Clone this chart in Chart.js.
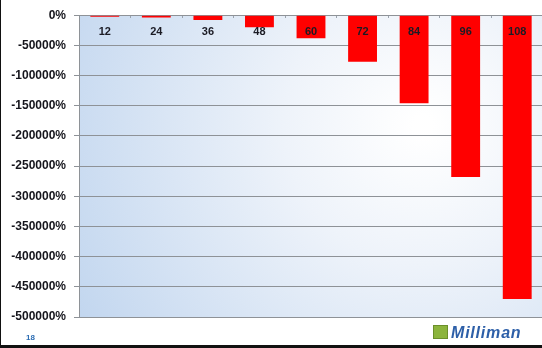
<!DOCTYPE html>
<html lang="en">
<head>
    <meta charset="UTF-8" />
    <title>Milliman chart</title>
    <script src="https://cdn.jsdelivr.net/npm/chart.js"></script>
    <style>
        html, body { margin: 0; padding: 0; background: #fff; }
        .wrap {
            position: relative;
            width: 542px;
            height: 348px;
            box-sizing: border-box;
            border-left: 1px solid #111;
            border-bottom: 3px solid #111;
            overflow: hidden;
        }
        #chart { position: absolute; left: 0; top: 0; }
        .pagenum {
            position: absolute; left: 25px; top: 333px;
            font: bold 8px "Liberation Sans", sans-serif; color: #2b6cb3;
        }
        .logo {
            position: absolute; left: 432px; top: 324px;
            font: italic bold 16px "Liberation Sans", sans-serif; color: #2d5fa8;
            letter-spacing: 0.8px;
        }
        .logo .box {
            display: inline-block; width: 13px; height: 12px; margin-right: 3px;
            background: #8cb43c; border: 1px solid #6b8f2a; vertical-align: -1px;
        }
    </style>
</head>
<body>
    <div class="wrap">
        <canvas id="chart" width="542" height="345"></canvas>
        <div class="pagenum">18</div>
        <div class="logo"><span class="box"></span>Milliman</div>
    </div>

    <script>
        // Datos
        const meses = ['12', '24', '36', '48', '60', '72', '84', '96', '108'];
        const valores = [-2500, -4000, -8000, -20000, -38000, -77000, -146000, -268000, -470000];
        const yMin = -500000;
        const yMax = 0;
        const yPaso = 50000;

        // Fondo degradado del area de trazado
        const fondo = {
            id: 'fondo',
            beforeDraw(chart) {
                const { ctx, chartArea: a } = chart;
                const g = ctx.createRadialGradient(a.right - 120, a.top + 110, 10, a.right - 120, a.top + 110, 440);
                g.addColorStop(0, '#ffffff');
                g.addColorStop(0.3, '#eef3fa');
                g.addColorStop(1, '#bad1ed');
                ctx.save();
                ctx.fillStyle = g;
                ctx.fillRect(a.left, a.top, a.right - a.left, a.bottom - a.top);
                ctx.restore();
            }
        };

        const ctx = document.getElementById('chart').getContext('2d');
        new Chart(ctx, {
            type: 'bar',
            data: {
                labels: meses,
                datasets: [{
                    data: valores,
                    backgroundColor: '#ff0000',
                    borderWidth: 0,
                    categoryPercentage: 1,
                    barPercentage: 0.56
                }]
            },
            plugins: [fondo],
            options: {
                responsive: false,
                animation: false,
                layout: { padding: { top: 7, right: 0, bottom: 28, left: 0 } },
                plugins: {
                    legend: { display: false },
                    tooltip: { enabled: false }
                },
                scales: {
                    x: {
                        position: { y: 0 },
                        offset: true,
                        grid: {
                            display: true,
                            offset: true,
                            drawOnChartArea: false,
                            tickLength: 3,
                            color: '#9aa3ad'
                        },
                        border: { display: false },
                        ticks: {
                            z: 1,
                            padding: 7,
                            autoSkip: false,
                            color: '#1b1b24',
                            font: { family: 'Liberation Sans', size: 11, weight: 'bold' }
                        }
                    },
                    y: {
                        min: yMin,
                        max: yMax,
                        afterFit(scale) { scale.width = 78; },
                        grid: {
                            color: '#8e9297',
                            lineWidth: 1,
                            tickLength: 5
                        },
                        border: { color: '#8e9297' },
                        ticks: {
                            stepSize: yPaso,
                            padding: 8,
                            color: '#15151c',
                            font: { family: 'Liberation Sans', size: 12, weight: 'bold' },
                            callback: v => v + '%'
                        }
                    }
                }
            }
        });
    </script>
</body>
</html>
